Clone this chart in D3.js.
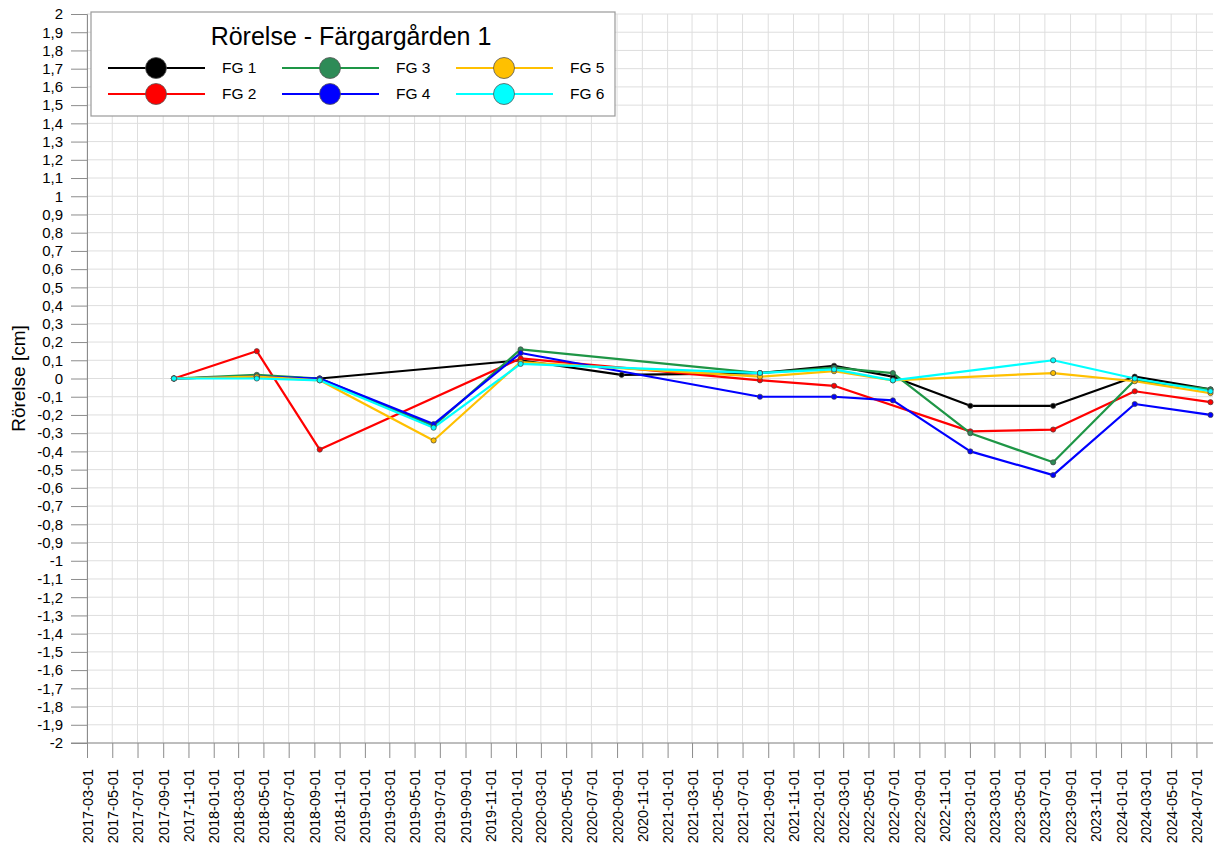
<!DOCTYPE html>
<html>
<head>
<meta charset="utf-8">
<script src="https://cdn.jsdelivr.net/npm/d3@7"></script>
<style>
  body { margin: 0; background: #fff; }
  svg { font-family: "Liberation Sans", Arial, sans-serif; }
</style>
</head>
<body>
<div id="chart"></div>
<script>
// Measurement dates
const dates = ["2017-09-27", "2018-04-15", "2018-09-14", "2019-06-16", "2020-01-12", "2020-09-12",
  "2021-08-12", "2022-02-07", "2022-06-29", "2023-01-02", "2023-07-21", "2024-02-03", "2024-08-04"];

// Movement [cm] per point, null = not measured
const fg1 = [0, 0.01, 0, null, 0.10, 0.02, 0.03, 0.07, 0.01, -0.15, -0.15, 0.01, -0.06];
const fg2 = [0, 0.15, -0.39, null, 0.11, null, -0.01, -0.04, null, -0.29, -0.28, -0.07, -0.13];
const fg3 = [0, 0.02, 0, -0.26, 0.16, null, 0.03, 0.06, 0.03, -0.30, -0.46, -0.01, -0.06];
const fg4 = [0, 0.01, 0, -0.25, 0.14, null, -0.10, -0.10, -0.12, -0.40, -0.53, -0.14, -0.20];
const fg5 = [0, 0.01, -0.01, -0.34, 0.09, null, 0.01, 0.04, -0.01, null, 0.03, -0.015, -0.08];
const fg6 = [0, 0, -0.01, -0.27, 0.08, null, 0.03, 0.05, -0.01, null, 0.10, 0, -0.07];

const seriesNames = ["FG 1", "FG 2", "FG 3", "FG 4", "FG 5", "FG 6"];
const seriesValues = [fg1, fg2, fg3, fg4, fg5, fg6];
const lineColors = ["#000000", "#ff0000", "#1e9646", "#0000ff", "#ffc000", "#00ffff"];
const dotColors = ["#000000", "#ff0000", "#2e8b57", "#0000ff", "#ffc000", "#00ffff"];

const xStart = "2017-03-01", xEnd = "2024-08-10";
const yMin = -2, yMax = 2;
const title = "Rörelse - Färgargården 1";
const yTitle = "Rörelse [cm]";

const W = 1215, H = 851;
const margin = { top: 14, right: 2, bottom: 108, left: 87 },
      width = W - margin.left - margin.right,
      height = H - margin.top - margin.bottom;

const parse = d3.utcParse("%Y-%m-%d");

const svg = d3.select("#chart").append("svg")
    .attr("width", W)
    .attr("height", H);

const g = svg.append("g")
    .attr("transform", `translate(${margin.left},${margin.top})`);

const x = d3.scaleUtc()
    .domain([parse(xStart), parse(xEnd)])
    .range([0, width]);

const y = d3.scaleLinear()
    .domain([yMin, yMax])
    .range([height, 0]);

const xTicks = d3.utcMonth.every(2).range(parse(xStart), parse(xEnd));
const yTicks = d3.range(-20, 21).map(v => v / 10);

// Grid
g.append("g")
    .selectAll("line")
    .data(xTicks)
    .join("line")
    .attr("x1", d => x(d)).attr("x2", d => x(d))
    .attr("y1", 0).attr("y2", height)
    .attr("stroke", "#dedede").attr("stroke-width", 1);

g.append("g")
    .selectAll("line")
    .data(yTicks)
    .join("line")
    .attr("x1", 0).attr("x2", width)
    .attr("y1", d => y(d)).attr("y2", d => y(d))
    .attr("stroke", "#dedede").attr("stroke-width", 1);

// Y axis
const yAxis = g.append("g")
    .call(d3.axisLeft(y)
        .tickValues(yTicks)
        .tickSize(16)
        .tickPadding(8)
        .tickFormat(d => String(+d.toFixed(1)).replace(".", ",")));
yAxis.select(".domain").attr("stroke", "#8c8c8c");
yAxis.selectAll(".tick line").attr("stroke", "#8c8c8c");
yAxis.selectAll("text").attr("font-size", 15).attr("fill", "#000");

// X axis
const xAxis = g.append("g")
    .attr("transform", `translate(0,${height})`)
    .call(d3.axisBottom(x)
        .tickValues(xTicks)
        .tickSize(15)
        .tickFormat(d3.utcFormat("%Y-%m-%d")));
xAxis.select(".domain").attr("stroke", "#8c8c8c").attr("d", `M-16,0H${width}`);
xAxis.selectAll(".tick line").attr("stroke", "#8c8c8c");
xAxis.selectAll("text")
    .attr("font-size", 14.5)
    .attr("fill", "#000")
    .attr("transform", "rotate(-90)")
    .attr("text-anchor", "end")
    .attr("x", -26)
    .attr("y", 0)
    .attr("dy", "0.35em");

// Y title
svg.append("text")
    .attr("transform", `translate(25,${margin.top + y(0)}) rotate(-90)`)
    .attr("text-anchor", "middle")
    .attr("font-size", 19)
    .text(yTitle);

// Lines
const line = d3.line()
    .x(d => x(d.date))
    .y(d => y(d.value));

const series = seriesNames.map((name, i) => ({
    name,
    lineColor: lineColors[i],
    dotColor: dotColors[i],
    points: dates.map((dt, j) => ({ date: parse(dt), value: seriesValues[i][j] }))
        .filter(p => p.value !== null)
}));

series.forEach(s => {
    g.append("path")
        .datum(s.points)
        .attr("fill", "none")
        .attr("stroke", s.lineColor)
        .attr("stroke-width", 2.2)
        .attr("stroke-linejoin", "round")
        .attr("d", line);
});

series.forEach(s => {
    g.append("g")
        .selectAll("circle")
        .data(s.points)
        .join("circle")
        .attr("cx", d => x(d.date))
        .attr("cy", d => y(d.value))
        .attr("r", 2.6)
        .attr("fill", s.dotColor)
        .attr("stroke", "#444")
        .attr("stroke-width", 0.7);
});

// Legend
const legend = svg.append("g").attr("transform", "translate(91,12)");
legend.append("rect")
    .attr("width", 524).attr("height", 104)
    .attr("fill", "#fff")
    .attr("stroke", "#9a9a9a").attr("stroke-width", 1.2);
legend.append("text")
    .attr("x", 260).attr("y", 33)
    .attr("text-anchor", "middle")
    .attr("font-size", 25)
    .text(title);

series.forEach((s, i) => {
    const col = Math.floor(i / 2), row = i % 2;
    const item = legend.append("g")
        .attr("transform", `translate(${17 + col * 174},${56 + row * 26})`);
    item.append("line")
        .attr("x1", 0).attr("x2", 97)
        .attr("stroke", s.lineColor).attr("stroke-width", 2.2);
    item.append("circle")
        .attr("cx", 48).attr("r", 10.5)
        .attr("fill", s.dotColor)
        .attr("stroke", "#555").attr("stroke-width", 0.8);
    item.append("text")
        .attr("x", 114).attr("dy", "0.35em")
        .attr("font-size", 15.5)
        .text(s.name);
});
</script>
</body>
</html>
